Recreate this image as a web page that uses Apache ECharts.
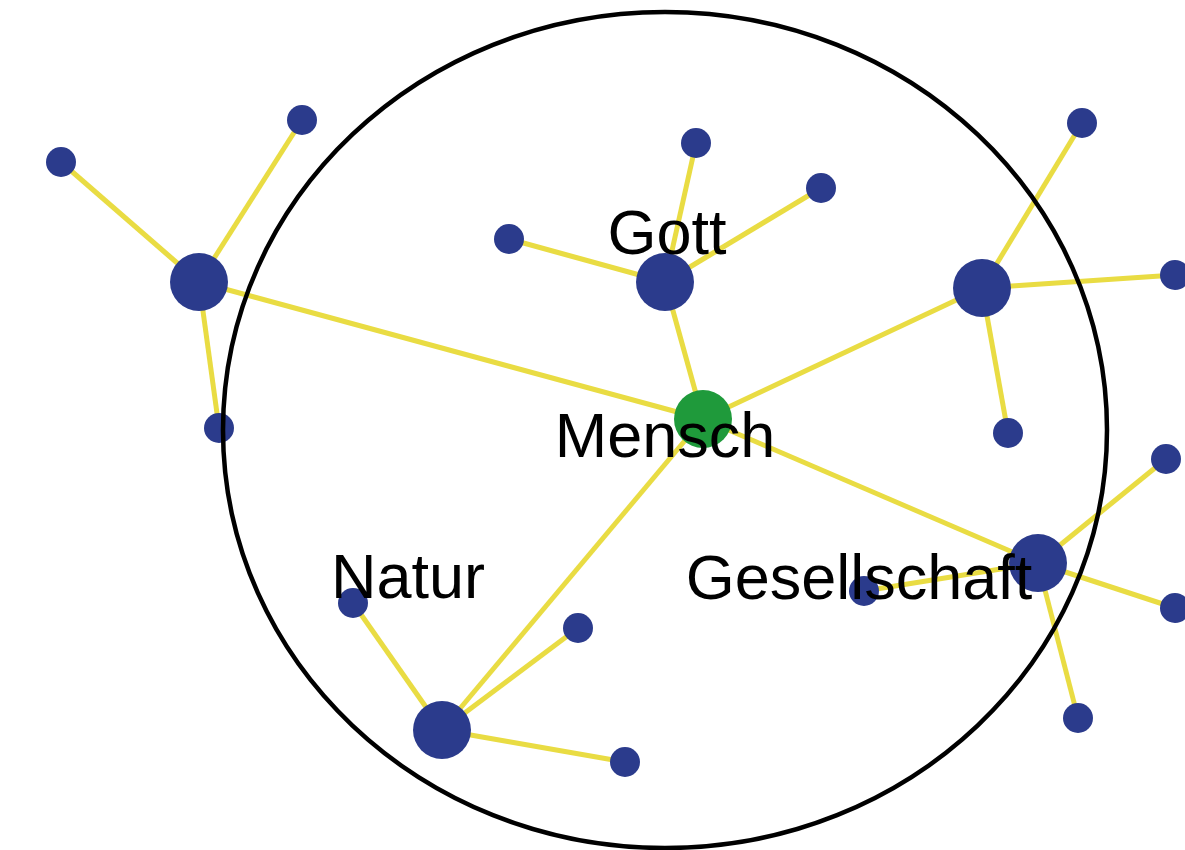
<!DOCTYPE html>
<html>
<head>
<meta charset="utf-8">
<script src="https://cdn.jsdelivr.net/npm/echarts@6/dist/echarts.min.js"></script>
<style>
html,body{margin:0;padding:0;background:#ffffff;}
#main{width:1185px;height:850px;}
</style>
</head>
<body>
<div id="main"></div>
<script>
// ---- data ----
const nodeNames = ['Mensch','L-Hub','L1','L2','L3','Gott','G1','G2','G3','R-Hub','R1','R2','R3','Gesellschaft','S1','S2','S3','S4','Natur','N1','N2','N3'];
const nodeKind  = ['center','hub','leaf','leaf','leaf','hub','leaf','leaf','leaf','hub','leaf','leaf','leaf','hub','leaf','leaf','leaf','leaf','hub','leaf','leaf','leaf'];
const nodeX = [703,199,61,302,219,665,696,821,509,982,1082,1175,1008,1038,1166,1175,1078,864,442,353,578,625];
const nodeY = [419,282,162,120,428,282,143,188,239,288,123,275,433,563,459,608,718,591,730,603,628,762];
const linkSource = [0,0,0,0,0, 1,1,1, 5,5,5, 9,9,9, 13,13,13,13, 18,18,18];
const linkTarget = [1,5,9,13,18, 2,3,4, 6,7,8, 10,11,12, 14,15,16,17, 19,20,21];
const labelTexts = ['Gott','Mensch','Natur','Gesellschaft'];
const labelX = [667,665,408,859];
const labelY = [237,440,581,582];
const frameEllipse = [665,430,442,418]; // cx, cy, rx, ry in data units

// ---- styles ----
const kindSize = {center:58, hub:58, leaf:30};
const kindColor = {center:'#1f9a3b', hub:'#2b3b8c', leaf:'#2b3b8c'};

const chart = echarts.init(document.getElementById('main'), null, {renderer:'canvas'});

const graphData = nodeNames.map((n,i)=>({
  name:n,
  value:[nodeX[i], nodeY[i]],
  symbolSize: kindSize[nodeKind[i]],
  itemStyle:{color: kindColor[nodeKind[i]]}
}));
const graphLinks = linkSource.map((s,i)=>({source:s, target:linkTarget[i]}));

chart.setOption({
  animation:false,
  backgroundColor:'#ffffff',
  grid:{left:0,right:0,top:0,bottom:0},
  xAxis:{type:'value',min:0,max:1185,show:false},
  yAxis:{type:'value',min:0,max:850,inverse:true,show:false},
  series:[
    {
      type:'graph',
      coordinateSystem:'cartesian2d',
      layout:'none',
      symbol:'circle',
      data:graphData,
      links:graphLinks,
      lineStyle:{color:'#e9dc43',width:5,opacity:1,curveness:0},
      label:{show:false},
      emphasis:{disabled:true},
      z:2
    }
  ]
});

const c = chart.convertToPixel({gridIndex:0},[frameEllipse[0],frameEllipse[1]]);
const e = chart.convertToPixel({gridIndex:0},[frameEllipse[0]+frameEllipse[2],frameEllipse[1]+frameEllipse[3]]);
const graphics = labelTexts.map((t,i)=>{
  const p = chart.convertToPixel({gridIndex:0},[labelX[i],labelY[i]]);
  return {
    type:'text',
    x:p[0], y:p[1],
    z:50,
    silent:true,
    style:{
      text:t,
      fill:'#000000',
      font:'63px "Liberation Sans", Arial, sans-serif',
      align:'center',
      verticalAlign:'middle'
    }
  };
});
graphics.push({
  type:'ellipse',
  shape:{cx:c[0],cy:c[1],rx:e[0]-c[0],ry:e[1]-c[1]},
  style:{fill:'none',stroke:'#000000',lineWidth:4.5},
  z:100,
  silent:true
});
chart.setOption({graphic:graphics});
</script>
</body>
</html>
